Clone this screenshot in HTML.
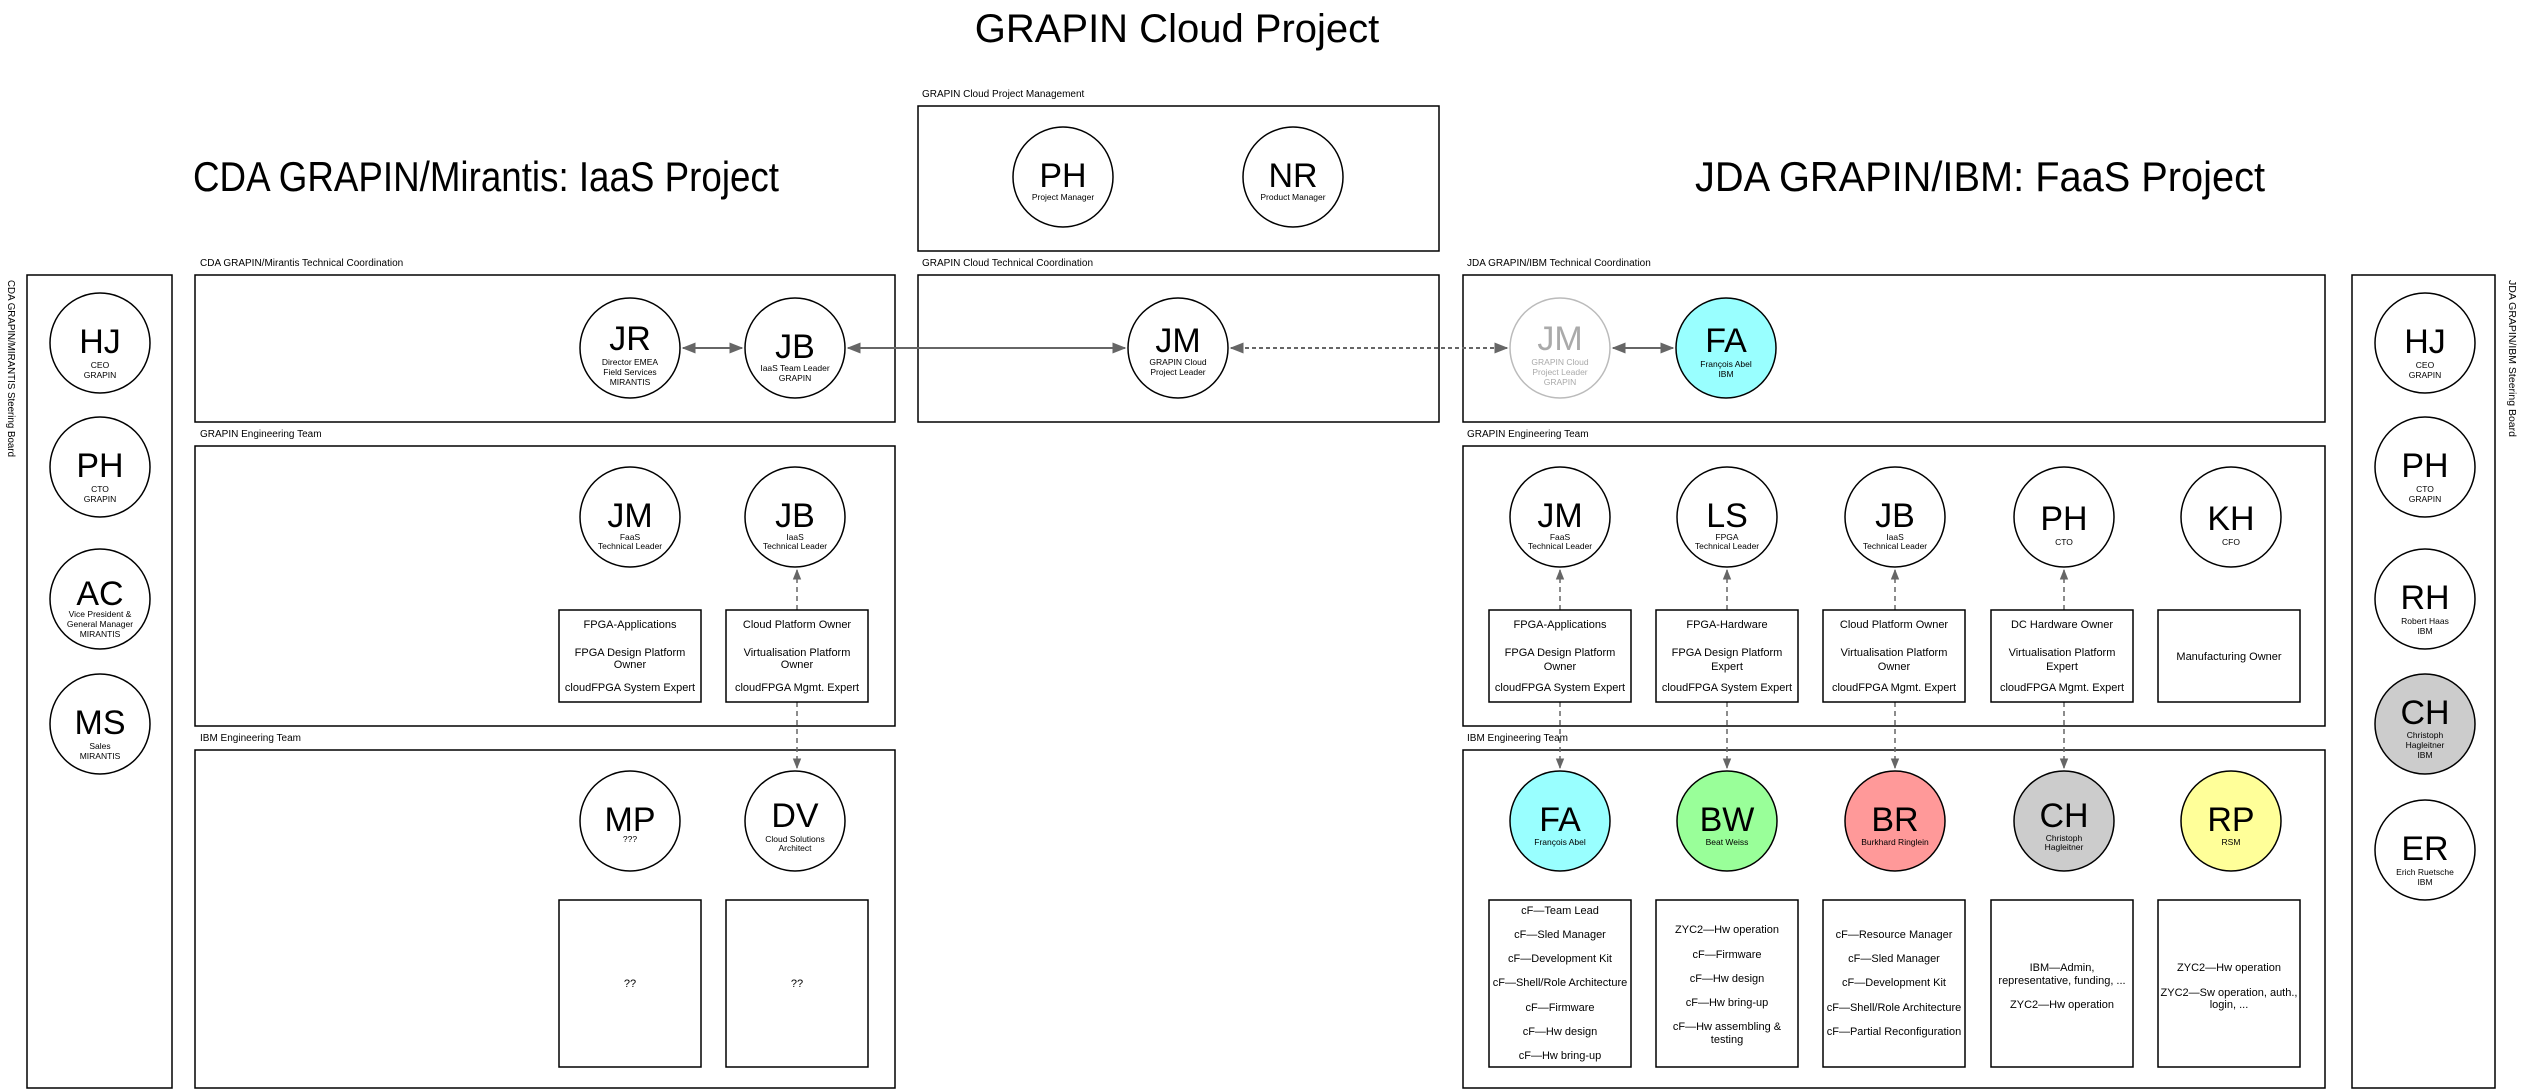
<!DOCTYPE html>
<html><head><meta charset="utf-8"><style>
html,body{margin:0;padding:0;background:#fff;}
svg{display:block;font-family:"Liberation Sans",sans-serif;}
.ini{font-size:34px;text-anchor:middle;}
.sub{font-size:8.5px;text-anchor:middle;}
.bx{font-size:11px;text-anchor:middle;}
.lbl{font-size:10px;}
</style></head><body>
<svg width="2524" height="1090" viewBox="0 0 2524 1090" xmlns="http://www.w3.org/2000/svg">
<defs>
<marker id="a" viewBox="0 0 10 10" refX="9" refY="5" markerWidth="7" markerHeight="7" orient="auto-start-reverse"><path d="M0,1 L10,5 L0,9 z" fill="#666"/></marker>
</defs>
<g fill="none" stroke="#000" stroke-width="1.5">
<rect x="27" y="275" width="145" height="813"/>
<rect x="2352" y="275" width="143" height="813"/>
<rect x="195" y="275" width="700" height="147"/>
<rect x="918" y="106" width="521" height="145"/>
<rect x="918" y="275" width="521" height="147"/>
<rect x="1463" y="275" width="862" height="147"/>
<rect x="195" y="446" width="700" height="280"/>
<rect x="195" y="750" width="700" height="338"/>
<rect x="1463" y="446" width="862" height="280"/>
<rect x="1463" y="750" width="862" height="338"/>
</g>
<text x="1177" y="42" font-size="40" text-anchor="middle">GRAPIN Cloud Project</text>
<text x="486" y="191" font-size="42" text-anchor="middle" textLength="586" lengthAdjust="spacingAndGlyphs">CDA GRAPIN/Mirantis: IaaS Project</text>
<text x="1980" y="191" font-size="42" text-anchor="middle" textLength="570" lengthAdjust="spacingAndGlyphs">JDA GRAPIN/IBM: FaaS Project</text>
<g class="lbl">
<text x="200" y="266">CDA GRAPIN/Mirantis Technical Coordination</text>
<text x="922" y="97">GRAPIN Cloud Project Management</text>
<text x="922" y="266">GRAPIN Cloud Technical Coordination</text>
<text x="1467" y="266">JDA GRAPIN/IBM Technical Coordination</text>
<text x="200" y="437">GRAPIN Engineering Team</text>
<text x="200" y="741">IBM Engineering Team</text>
<text x="1467" y="437">GRAPIN Engineering Team</text>
<text x="1467" y="741">IBM Engineering Team</text>
</g>
<text transform="translate(8,280) rotate(90)" font-size="10.5" textLength="177" lengthAdjust="spacingAndGlyphs">CDA GRAPIN/MIRANTIS Steering Board</text>
<text transform="translate(2509,280) rotate(90)" font-size="10.5">JDA GRAPIN/IBM Steering Board</text>
<!-- connectors -->
<g stroke="#666" stroke-width="2" fill="none">
<line x1="683" y1="348" x2="742" y2="348" marker-start="url(#a)" marker-end="url(#a)"/>
<line x1="848" y1="348" x2="1125" y2="348" marker-start="url(#a)" marker-end="url(#a)"/>
<line x1="1231" y1="348" x2="1507" y2="348" stroke-dasharray="4,3" marker-start="url(#a)" marker-end="url(#a)"/>
<line x1="1613" y1="348" x2="1673" y2="348" marker-start="url(#a)" marker-end="url(#a)"/>
<g stroke-dasharray="5,4" stroke-width="1.5">
<line x1="797" y1="610" x2="797" y2="570" marker-end="url(#a)"/>
<line x1="797" y1="702" x2="797" y2="768" marker-end="url(#a)"/>
<line x1="1560" y1="610" x2="1560" y2="570" marker-end="url(#a)"/>
<line x1="1560" y1="702" x2="1560" y2="768" marker-end="url(#a)"/>
<line x1="1727" y1="610" x2="1727" y2="570" marker-end="url(#a)"/>
<line x1="1727" y1="702" x2="1727" y2="768" marker-end="url(#a)"/>
<line x1="1895" y1="610" x2="1895" y2="570" marker-end="url(#a)"/>
<line x1="1895" y1="702" x2="1895" y2="768" marker-end="url(#a)"/>
<line x1="2064" y1="610" x2="2064" y2="570" marker-end="url(#a)"/>
<line x1="2064" y1="702" x2="2064" y2="768" marker-end="url(#a)"/>
</g>
</g>
<!-- circles -->
<g stroke="#000" stroke-width="1.5" fill="#fff">
<circle cx="100" cy="343" r="50"/><circle cx="100" cy="467" r="50"/><circle cx="100" cy="599" r="50"/><circle cx="100" cy="724" r="50"/>
<circle cx="2425" cy="343" r="50"/><circle cx="2425" cy="467" r="50"/><circle cx="2425" cy="599" r="50"/><circle cx="2425" cy="724" r="50" fill="#ccc"/><circle cx="2425" cy="850" r="50"/>
<circle cx="630" cy="348" r="50"/><circle cx="795" cy="348" r="50"/>
<circle cx="1063" cy="177" r="50"/><circle cx="1293" cy="177" r="50"/>
<circle cx="1178" cy="348" r="50"/>
<circle cx="1560" cy="348" r="50" stroke="#bbb"/><circle cx="1726" cy="348" r="50" fill="#99ffff"/>
<circle cx="630" cy="517" r="50"/><circle cx="795" cy="517" r="50"/>
<circle cx="630" cy="821" r="50"/><circle cx="795" cy="821" r="50"/>
<circle cx="1560" cy="517" r="50"/><circle cx="1727" cy="517" r="50"/><circle cx="1895" cy="517" r="50"/><circle cx="2064" cy="517" r="50"/><circle cx="2231" cy="517" r="50"/>
<circle cx="1560" cy="821" r="50" fill="#99ffff"/><circle cx="1727" cy="821" r="50" fill="#99ff99"/><circle cx="1895" cy="821" r="50" fill="#ff9999"/><circle cx="2064" cy="821" r="50" fill="#cccccc"/><circle cx="2231" cy="821" r="50" fill="#ffff99"/>
</g>
<!-- circle text -->
<g class="ini">
<text x="100" y="353">HJ</text><text x="100" y="477">PH</text><text x="100" y="605">AC</text><text x="100" y="734">MS</text>
<text x="2425" y="353">HJ</text><text x="2425" y="477">PH</text><text x="2425" y="609">RH</text><text x="2425" y="724">CH</text><text x="2425" y="860">ER</text>
<text x="630" y="350">JR</text><text x="795" y="358">JB</text>
<text x="1063" y="187">PH</text><text x="1293" y="187">NR</text>
<text x="1178" y="352">JM</text>
<text x="1560" y="350" fill="#aaa">JM</text><text x="1726" y="352">FA</text>
<text x="630" y="527">JM</text><text x="795" y="527">JB</text>
<text x="630" y="831">MP</text><text x="795" y="827">DV</text>
<text x="1560" y="527">JM</text><text x="1727" y="527">LS</text><text x="1895" y="527">JB</text><text x="2064" y="530">PH</text><text x="2231" y="530">KH</text>
<text x="1560" y="831">FA</text><text x="1727" y="831">BW</text><text x="1895" y="831">BR</text><text x="2064" y="827">CH</text><text x="2231" y="831">RP</text>
</g>
<g class="sub">
<text x="100" y="368">CEO</text><text x="100" y="378">GRAPIN</text>
<text x="100" y="492">CTO</text><text x="100" y="502">GRAPIN</text>
<text x="100" y="617">Vice President &amp;</text><text x="100" y="627">General Manager</text><text x="100" y="637">MIRANTIS</text>
<text x="100" y="749">Sales</text><text x="100" y="759">MIRANTIS</text>
<text x="2425" y="368">CEO</text><text x="2425" y="378">GRAPIN</text>
<text x="2425" y="492">CTO</text><text x="2425" y="502">GRAPIN</text>
<text x="2425" y="624">Robert Haas</text><text x="2425" y="634">IBM</text>
<text x="2425" y="738">Christoph</text><text x="2425" y="748">Hagleitner</text><text x="2425" y="758">IBM</text>
<text x="2425" y="875">Erich Ruetsche</text><text x="2425" y="885">IBM</text>
<text x="630" y="365">Director EMEA</text><text x="630" y="375">Field Services</text><text x="630" y="385">MIRANTIS</text>
<text x="795" y="371">IaaS Team Leader</text><text x="795" y="381">GRAPIN</text>
<text x="1063" y="200">Project Manager</text><text x="1293" y="200">Product Manager</text>
<text x="1178" y="365">GRAPIN Cloud</text><text x="1178" y="375">Project Leader</text>
<g fill="#aaa"><text x="1560" y="365">GRAPIN Cloud</text><text x="1560" y="375">Project Leader</text><text x="1560" y="385">GRAPIN</text></g>
<text x="1726" y="367">François Abel</text><text x="1726" y="377">IBM</text>
<text x="630" y="540">FaaS</text><text x="630" y="549">Technical Leader</text>
<text x="795" y="540">IaaS</text><text x="795" y="549">Technical Leader</text>
<text x="630" y="842">???</text>
<text x="795" y="842">Cloud Solutions</text><text x="795" y="851">Architect</text>
<text x="1560" y="540">FaaS</text><text x="1560" y="549">Technical Leader</text>
<text x="1727" y="540">FPGA</text><text x="1727" y="549">Technical Leader</text>
<text x="1895" y="540">IaaS</text><text x="1895" y="549">Technical Leader</text>
<text x="2064" y="545">CTO</text><text x="2231" y="545">CFO</text>
<text x="1560" y="845">François Abel</text><text x="1727" y="845">Beat Weiss</text><text x="1895" y="845">Burkhard Ringlein</text>
<text x="2064" y="841">Christoph</text><text x="2064" y="850">Hagleitner</text><text x="2231" y="845">RSM</text>
</g>
<!-- boxes -->
<g fill="none" stroke="#000" stroke-width="1.5">
<rect x="559" y="610" width="142" height="92"/><rect x="726" y="610" width="142" height="92"/>
<rect x="559" y="900" width="142" height="167"/><rect x="726" y="900" width="142" height="167"/>
<rect x="1489" y="610" width="142" height="92"/><rect x="1656" y="610" width="142" height="92"/><rect x="1823" y="610" width="142" height="92"/><rect x="1991" y="610" width="142" height="92"/><rect x="2158" y="610" width="142" height="92"/>
<rect x="1489" y="900" width="142" height="167"/><rect x="1656" y="900" width="142" height="167"/><rect x="1823" y="900" width="142" height="167"/><rect x="1991" y="900" width="142" height="167"/><rect x="2158" y="900" width="142" height="167"/>
</g>
<g class="bx">
<text x="630" y="628">FPGA-Applications</text><text x="630" y="656">FPGA Design Platform</text><text x="630" y="668">Owner</text><text x="630" y="691">cloudFPGA System Expert</text>
<text x="797" y="628">Cloud Platform Owner</text><text x="797" y="656">Virtualisation Platform</text><text x="797" y="668">Owner</text><text x="797" y="691">cloudFPGA Mgmt. Expert</text>
<text x="630" y="987">??</text><text x="797" y="987">??</text>
<text x="1560" y="628">FPGA-Applications</text><text x="1560" y="656">FPGA Design Platform</text><text x="1560" y="670">Owner</text><text x="1560" y="691">cloudFPGA System Expert</text>
<text x="1727" y="628">FPGA-Hardware</text><text x="1727" y="656">FPGA Design Platform</text><text x="1727" y="670">Expert</text><text x="1727" y="691">cloudFPGA System Expert</text>
<text x="1894" y="628">Cloud Platform Owner</text><text x="1894" y="656">Virtualisation Platform</text><text x="1894" y="670">Owner</text><text x="1894" y="691">cloudFPGA Mgmt. Expert</text>
<text x="2062" y="628">DC Hardware Owner</text><text x="2062" y="656">Virtualisation Platform</text><text x="2062" y="670">Expert</text><text x="2062" y="691">cloudFPGA Mgmt. Expert</text>
<text x="2229" y="660">Manufacturing Owner</text>
<text x="1560" y="914">cF—Team Lead</text><text x="1560" y="938">cF—Sled Manager</text><text x="1560" y="962">cF—Development Kit</text><text x="1560" y="986">cF—Shell/Role Architecture</text><text x="1560" y="1011">cF—Firmware</text><text x="1560" y="1035">cF—Hw design</text><text x="1560" y="1059">cF—Hw bring-up</text>
<text x="1727" y="933">ZYC2—Hw operation</text><text x="1727" y="958">cF—Firmware</text><text x="1727" y="982">cF—Hw design</text><text x="1727" y="1006">cF—Hw bring-up</text><text x="1727" y="1030">cF—Hw assembling &amp;</text><text x="1727" y="1043">testing</text>
<text x="1894" y="938">cF—Resource Manager</text><text x="1894" y="962">cF—Sled Manager</text><text x="1894" y="986">cF—Development Kit</text><text x="1894" y="1011">cF—Shell/Role Architecture</text><text x="1894" y="1035">cF—Partial Reconfiguration</text>
<text x="2062" y="971">IBM—Admin,</text><text x="2062" y="984">representative, funding, ...</text><text x="2062" y="1008">ZYC2—Hw operation</text>
<text x="2229" y="971">ZYC2—Hw operation</text><text x="2229" y="996">ZYC2—Sw operation, auth.,</text><text x="2229" y="1008">login, ...</text>
</g>
</svg>
</body></html>
